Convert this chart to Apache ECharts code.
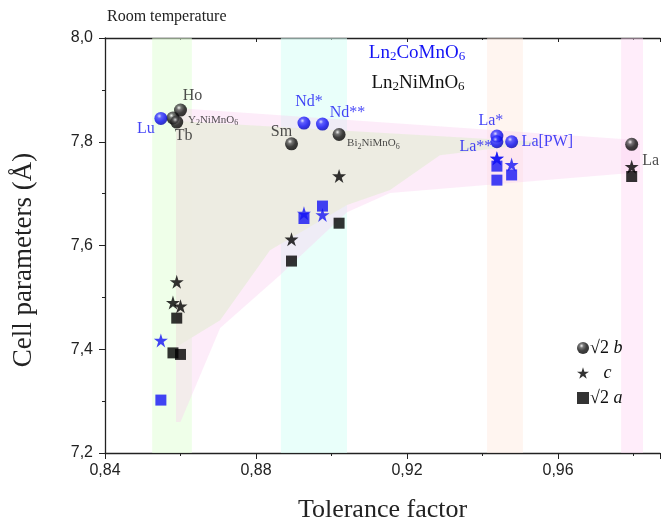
<!DOCTYPE html>
<html><head><meta charset="utf-8">
<script src="https://cdn.jsdelivr.net/npm/echarts@6/dist/echarts.min.js"></script>
<style>html,body{margin:0;padding:0;background:#fff}#c{width:661px;height:523px}</style>
</head><body><div id="c"></div>
<script>
// Ln2NiMnO6 (black markers)
const niNames = ['Ho', 'Y', 'Tb', 'Sm', 'Bi', 'La'];
const niTol = [0.8600, 0.8580, 0.8590, 0.8894, 0.9020, 0.9795];
const niB = [7.861, 7.846, 7.838, 7.796, 7.814, 7.795];
const niC = [7.483, 7.490, 7.530, 7.612, 7.734, 7.752];
const niA = [7.390, 7.393, 7.460, 7.570, 7.643, 7.733];

// Ln2CoMnO6 (blue markers)
const coNames = ['Lu', 'Nd*', 'Nd**', 'La*', 'La**', 'La[PW]'];
const coTol = [0.8548, 0.8927, 0.8976, 0.9438, 0.9438, 0.9477];
const coB = [7.845, 7.836, 7.834, 7.811, 7.800, 7.800];
const coC = [7.417, 7.662, 7.659, 7.768, 7.768, 7.756];
const coA = [7.302, 7.652, 7.676, 7.753, 7.726, 7.736];

// point labels (text per compound)
const niLabels = ['Ho', '{s|Y}{sub|2}{s|NiMnO}{sub|6}', 'Tb', 'Sm', '{s|Bi}{sub|2}{s|NiMnO}{sub|6}', 'La'];
const coLabels = ['Lu', 'Nd*', 'Nd**', 'La*', 'La**', 'La[PW]'];

// vertical tolerance-factor bands [from, to]
const bandRanges = [[0.8525, 0.8630], [0.8866, 0.9041], [0.9412, 0.9507], [0.9767, 0.9825]];

// shaded trend regions (tolerance factor, cell parameter)
const pinkRegion = [[0.8588, 7.865], [0.9817, 7.803], [0.9817, 7.741], [0.9155, 7.701], [0.9041, 7.664], [0.8864, 7.543], [0.8705, 7.441], [0.8600, 7.260], [0.8588, 7.260]];
const greyRegion = [[0.8588, 7.840], [0.9566, 7.799], [0.9287, 7.774], [0.9155, 7.707], [0.9041, 7.678], [0.8837, 7.591], [0.8705, 7.456], [0.8588, 7.404]];

// axis ticks
const xTicks = { min: 0.84, max: 0.987, step: 0.04 };
const yTicks = { min: 7.2, max: 8.0, step: 0.2 };

const BLUE = '#1414f5';
const serif = 'Liberation Serif';
const starPath = 'path://M50,0 L61.2,34.5 L97.6,34.5 L68.2,55.9 L79.4,90.5 L50,69.1 L20.6,90.5 L31.8,55.9 L2.4,34.5 L38.8,34.5 Z';

const blackBall = new echarts.graphic.RadialGradient(0.38, 0.32, 0.7, [
  { offset: 0, color: '#f4f4f4' }, { offset: 0.25, color: '#555' }, { offset: 0.6, color: '#111' }, { offset: 1, color: '#000' }]);
const blueBall = new echarts.graphic.RadialGradient(0.38, 0.32, 0.7, [
  { offset: 0, color: '#d8d8ff' }, { offset: 0.25, color: '#3a3aff' }, { offset: 0.65, color: '#0a0af0' }, { offset: 1, color: '#0000b0' }]);

// label placement relative to marker centre: [dx, dy, align]
const niPlace = [[12, -14, 'center'], [15, 2, 'left'], [7, 14, 'center'], [-10, -12, 'center'], [8, 9, 'left'], [19, 16, 'center']];
const coPlace = [[-15, 10, 'center'], [5, -21, 'center'], [25, -11, 'center'], [-6, -15, 'center'], [-21, 5, 'center'], [10, 0, 'left']];

const subRich = {
  s: { fontFamily: serif, fontSize: 11, color: '#222' },
  sub: { fontFamily: serif, fontSize: 8, color: '#222', verticalAlign: 'bottom', padding: [6, 0, 0, 0] }
};

function pts(xs, ys, labels, place, color) {
  return xs.map((x, i) => {
    const item = { value: [x, ys[i]] };
    if (labels) {
      const p = place[i];
      item.label = {
        show: true, position: 'inside', formatter: labels[i], offset: [p[0], p[1]],
        align: p[2], verticalAlign: 'middle',
        fontFamily: serif, fontSize: 16, color: color, rich: subRich
      };
    }
    return item;
  });
}

function polygon(name, region, fill, z) {
  return {
    type: 'custom', name: name, z: z, silent: true, clip: true,
    data: [[region[0][0], region[0][1]]],
    renderItem: function (params, api) {
      return { type: 'polygon', shape: { points: region.map(p => api.coord(p)) }, style: { fill: fill } };
    }
  };
}

function formula(parts, color) {
  return {
    text: parts, align: 'center', verticalAlign: 'middle',
    rich: {
      t: { fontFamily: serif, fontSize: 19, fill: color },
      u: { fontFamily: serif, fontSize: 13, fill: color, padding: [8, 0, 0, 0] }
    }
  };
}

const bandColors = ['rgba(225,255,215,0.55)', 'rgba(215,255,245,0.55)', 'rgba(255,232,222,0.45)', 'rgba(255,215,245,0.45)'];

const fmt = v => v.toFixed(2).replace('.', ',');
const fmtY = v => v.toFixed(1).replace('.', ',');

const chart = echarts.init(document.getElementById('c'), null, { renderer: 'canvas' });
chart.setOption({
  animation: false,
  backgroundColor: '#fff',
  grid: { left: 105, right: 1, top: 38, bottom: 70, containLabel: false, outerBoundsMode: 'none' },
  xAxis: [{
    type: 'value', min: xTicks.min, max: xTicks.max, interval: xTicks.step,
    name: 'Tolerance factor', nameLocation: 'middle', nameGap: 44,
    nameTextStyle: { fontFamily: serif, fontSize: 26, color: '#222' },
    axisLine: { show: true, onZero: false, lineStyle: { color: '#222', width: 1.3 } },
    axisTick: { show: true, inside: false, length: 6, lineStyle: { color: '#222' } },
    minorTick: { show: true, splitNumber: 2, length: 3, lineStyle: { color: '#222' } },
    splitLine: { show: false },
    axisLabel: { fontFamily: 'Liberation Sans', fontSize: 16, color: '#222', margin: 10, formatter: v => (v > 0.985 ? '' : fmt(v)), showMaxLabel: false }
  }, {
    type: 'value', position: 'top', min: xTicks.min, max: xTicks.max, interval: xTicks.step,
    axisLine: { show: true, lineStyle: { color: '#222', width: 1.3 } },
    axisTick: { show: true, inside: true, length: 4, lineStyle: { color: '#222' } },
    minorTick: { show: true, splitNumber: 2, length: 2, lineStyle: { color: '#222' } },
    axisLabel: { show: false }, splitLine: { show: false }
  }],
  yAxis: {
    type: 'value', min: yTicks.min, max: yTicks.max, interval: yTicks.step,
    axisLine: { show: true, lineStyle: { color: '#222', width: 1.3 } },
    axisTick: { show: true, length: 6, lineStyle: { color: '#222' } },
    minorTick: { show: true, splitNumber: 2, length: 3, lineStyle: { color: '#222' } },
    splitLine: { show: false },
    axisLabel: { fontFamily: 'Liberation Sans', fontSize: 16, color: '#222', margin: 12, formatter: fmtY }
  },
  legend: {
    left: 572, top: 334, orient: 'vertical', itemGap: 7, itemWidth: 12, itemHeight: 12,
    data: ['b', 'c', 'a'],
    formatter: n => n === 'c' ? '   {i|c}' : '{r|√2}{i| ' + n + '}',
    textStyle: {
      fontFamily: serif, fontSize: 18, color: '#111', padding: [0, 0, 0, -4],
      rich: { r: { fontFamily: serif, fontSize: 18, color: '#111' }, i: { fontFamily: serif, fontStyle: 'italic', fontSize: 18, color: '#111' } }
    }
  },
  graphic: [
    { type: 'text', left: 107, top: 9, style: { text: 'Room temperature', fontFamily: serif, fontSize: 16, fill: '#222' } },
    { type: 'text', x: 24, y: 260, rotation: Math.PI / 2,
      style: { text: 'Cell parameters (Å)', align: 'center', verticalAlign: 'middle', fontFamily: serif, fontSize: 27, fill: '#222' } },
    { type: 'text', x: 417, y: 53, style: formula('{t|Ln}{u|2}{t|CoMnO}{u|6}', BLUE) },
    { type: 'text', x: 418, y: 83, style: formula('{t|Ln}{u|2}{t|NiMnO}{u|6}', '#111') }
  ],
  series: [
    {
      type: 'line', name: 'bands', data: [], z: 0, silent: true,
      markArea: {
        silent: true,
        data: bandRanges.map((r, i) => [{ xAxis: r[0], itemStyle: { color: bandColors[i] } }, { xAxis: r[1] }])
      }
    },
    polygon('pink', pinkRegion, 'rgba(250,205,240,0.38)', 1),
    polygon('grey', greyRegion, 'rgba(236,236,224,0.95)', 2),
    // squares: √2 a
    { type: 'scatter', name: 'a', symbol: 'rect', symbolSize: 11, z: 3, itemStyle: { color: '#000' }, data: pts(niTol, niA) },
    { type: 'scatter', name: 'a-co', symbol: 'rect', symbolSize: 11, z: 3, itemStyle: { color: BLUE }, data: pts(coTol, coA) },
    // stars: c
    { type: 'scatter', name: 'c', symbol: starPath, symbolSize: 14, z: 4, itemStyle: { color: '#000' }, data: pts(niTol, niC) },
    { type: 'scatter', name: 'c-co', symbol: starPath, symbolSize: 14, z: 4, itemStyle: { color: BLUE }, data: pts(coTol, coC) },
    // spheres: √2 b, carrying the compound labels
    { type: 'scatter', name: 'b', symbol: 'circle', symbolSize: 13, z: 5, itemStyle: { color: blackBall }, data: pts(niTol, niB, niLabels, niPlace, '#222') },
    { type: 'scatter', name: 'b-co', symbol: 'circle', symbolSize: 13, z: 5, itemStyle: { color: blueBall }, data: pts(coTol, coB, coLabels, coPlace, BLUE) }
  ]
});
</script></body></html>
